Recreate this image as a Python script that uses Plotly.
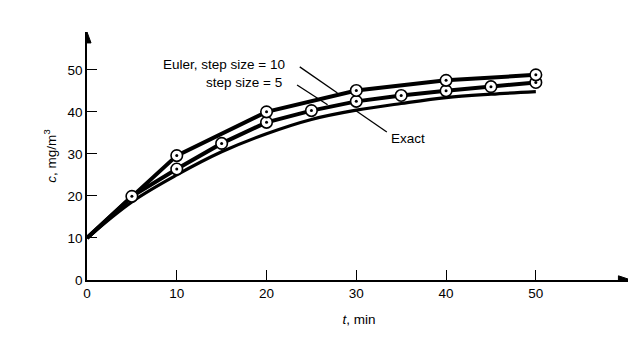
import plotly.graph_objects as go

# ---- data ----
t_exact = [0, 5, 10, 15, 20, 25, 30, 35, 40, 45, 50]
c_exact = [10, 18.6, 25.0, 30.5, 34.8, 38.2, 40.4, 42.0, 43.4, 44.2, 44.8]

t_step10 = [0, 10, 20, 30, 40, 50]
c_step10 = [10, 29.6, 40.0, 45.1, 47.5, 48.8]

t_step5 = [0, 5, 10, 15, 20, 25, 30, 35, 40, 45, 50]
c_step5 = [10, 19.9, 26.4, 32.5, 37.5, 40.3, 42.5, 43.9, 45.0, 46.0, 47.0]

x_ticks = [0, 10, 20, 30, 40, 50]
y_ticks = [0, 10, 20, 30, 40, 50]

FONT = "Liberation Sans, Arial, sans-serif"
FS = 13.5

fig = go.Figure()

fig.add_trace(go.Scatter(x=t_exact, y=c_exact, mode="lines",
                         line=dict(color="black", width=3.2, shape="spline"),
                         hoverinfo="skip", showlegend=False))
fig.add_trace(go.Scatter(x=t_step5, y=c_step5, mode="lines",
                         line=dict(color="black", width=4),
                         hoverinfo="skip", showlegend=False))
fig.add_trace(go.Scatter(x=t_step10, y=c_step10, mode="lines",
                         line=dict(color="black", width=4),
                         hoverinfo="skip", showlegend=False))

# markers (open circles with a centre dot), skipping t = 0
for tt, cc in ((t_step5, c_step5), (t_step10, c_step10)):
    fig.add_trace(go.Scatter(x=tt[1:], y=cc[1:], mode="markers",
                             marker=dict(symbol="circle", size=11.5, color="white",
                                         line=dict(color="black", width=1.6)),
                             hoverinfo="skip", showlegend=False))
    fig.add_trace(go.Scatter(x=tt[1:], y=cc[1:], mode="markers",
                             marker=dict(symbol="circle", size=3, color="black"),
                             hoverinfo="skip", showlegend=False))

annotations = []
annotations.append(dict(x=22.3, y=51.2, xref="x", yref="y", text="Euler, step size = 10",
                        showarrow=False, xanchor="right", yanchor="middle",
                        font=dict(size=FS, family=FONT, color="black")))
annotations.append(dict(x=22.0, y=47.1, xref="x", yref="y", text="step size = 5",
                        showarrow=False, xanchor="right", yanchor="middle",
                        font=dict(size=FS, family=FONT, color="black")))
annotations.append(dict(x=33.6, y=33.6, xref="x", yref="y", text="Exact",
                        showarrow=False, xanchor="left", yanchor="middle",
                        font=dict(size=FS, family=FONT, color="black")))

shapes = []
# leader lines
for (x0, y0, x1, y1) in [(23.7, 50.7, 27.9, 44.5),
                         (23.4, 46.4, 26.8, 41.7),
                         (33.4, 35.2, 29.8, 40.5)]:
    shapes.append(dict(type="line", xref="x", yref="y", x0=x0, y0=y0, x1=x1, y1=y1,
                       line=dict(color="black", width=1.3)))
# axis arrowheads
shapes.append(dict(type="path", xref="x", yref="y",
                   path="M 60.6 0 L 59.2 1.0 L 59.2 -1.0 Z",
                   fillcolor="black", line=dict(color="black", width=1)))
shapes.append(dict(type="path", xref="x", yref="y",
                   path="M 0 59 L -0.45 56.4 L 0.45 56.4 Z",
                   fillcolor="black", line=dict(color="black", width=1)))

fig.update_layout(
    width=628, height=333,
    margin=dict(l=79, r=5, t=24, b=61),
    paper_bgcolor="white", plot_bgcolor="white",
    annotations=annotations, shapes=shapes,
    font=dict(family=FONT, size=FS, color="black"),
)
fig.update_xaxes(range=[0, 60.6], tickvals=x_ticks, ticktext=[str(v) for v in x_ticks],
                 showgrid=False, zeroline=False, showline=True, linecolor="black",
                 linewidth=1.5, ticks="inside", ticklen=10, tickwidth=1.2,
                 tickcolor="black", tickfont=dict(size=FS, family=FONT),
                 title=dict(text="<i>t</i>, min", standoff=15,
                            font=dict(size=FS, family=FONT, color="black")))
fig.update_yaxes(range=[0, 59], tickvals=y_ticks, ticktext=[str(v) for v in y_ticks],
                 showgrid=False, zeroline=False, showline=True, linecolor="black",
                 linewidth=1.5, ticks="inside", ticklen=10, tickwidth=1.2,
                 tickcolor="black", tickfont=dict(size=FS, family=FONT),
                 title=dict(text="<i>c</i>, mg/m<sup>3</sup>", standoff=8,
                            font=dict(size=FS, family=FONT, color="black")))

fig.write_html("out.html")
